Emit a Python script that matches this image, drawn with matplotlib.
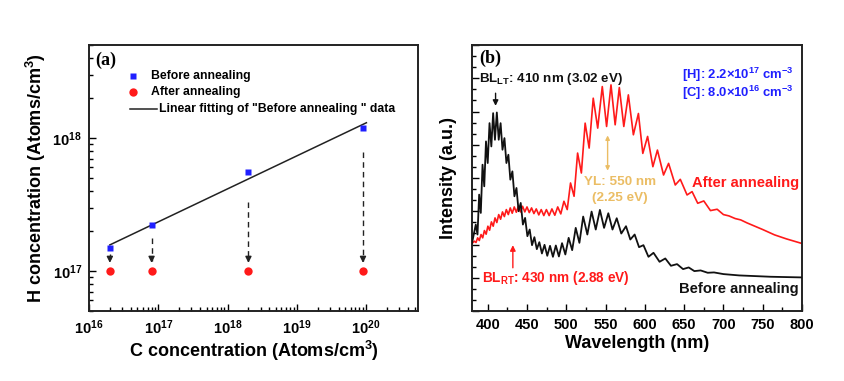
import numpy as np
import matplotlib
matplotlib.use('Agg')
import matplotlib.pyplot as plt
from matplotlib.ticker import MultipleLocator, LogLocator, FuncFormatter, NullFormatter

plt.rcParams['font.family'] = ['Liberation Sans', 'DejaVu Sans']
plt.rcParams['font.weight'] = 'bold'
plt.rcParams['mathtext.fontset'] = 'custom'
plt.rcParams['mathtext.rm'] = 'Liberation Sans:bold'
plt.rcParams['mathtext.bf'] = 'Liberation Sans:bold'
plt.rcParams['mathtext.it'] = 'Liberation Sans:bold:italic'
plt.rcParams['mathtext.default'] = 'rm'

# ---------------- Panel (a) data ----------------
c_conc = [2.0e16, 8.0e16, 2.0e18, 9.0e19]
h_before = [1.49e17, 2.22e17, 5.5e17, 1.19e18]
h_after = [1.0e17, 1.0e17, 1.0e17, 1.0e17]
arrow_start = [1.34e17, 1.77e17, 3.3e17, 7.9e17]
arrow_tip = [1.15e17, 1.15e17, 1.15e17, 1.15e17]

# ---------------- Panel (b) data ----------------
wl_before = [380, 384.8, 387.0, 389.1, 391.2, 393.4, 395.6, 397.8, 400.0, 402.3,
             404.6, 406.9, 409.2, 411.6, 414.0, 416.4, 418.8, 421.3, 423.8, 426.3,
             428.8, 431.4, 434.0, 436.6, 439.3, 442.0, 444.8, 447.6, 450.5, 453.4,
             456.4, 459.4, 462.5, 465.7, 469.0, 472.3, 475.8, 479.3, 483.0, 486.7,
             490.6, 494.6, 498.8, 503.0, 507.5, 512.0, 516.7, 521.5, 526.8, 532.2,
             537.5, 542.8, 548.1, 553.5, 558.8, 564.2, 570.0, 576.0, 581.5, 587.0,
             592.6, 598.2, 604.6, 611.0, 618.7, 626.0, 633.2, 641.0, 648.6, 655.8,
             663.0, 671.0, 680.0, 688.0, 700, 720, 740, 760, 780, 800]
int_before = [2.04, 2.60, 2.30, 3.50, 2.95, 4.40, 3.75, 5.10, 4.45, 5.65,
              4.95, 5.95, 5.15, 5.97, 5.15, 5.65, 4.85, 5.20, 4.45, 4.70,
              3.95, 4.20, 3.45, 3.70, 3.00, 3.25, 2.60, 2.80, 2.25, 2.45,
              1.98, 2.22, 1.86, 2.07, 1.73, 1.99, 1.66, 1.96, 1.63, 1.97,
              1.64, 2.04, 1.70, 2.20, 1.83, 2.50, 2.05, 2.84, 2.30, 2.99,
              2.45, 3.04, 2.50, 2.94, 2.45, 2.79, 2.33, 2.55, 2.15, 2.30,
              1.92, 1.98, 1.63, 1.75, 1.48, 1.58, 1.36, 1.41, 1.26, 1.31,
              1.20, 1.22, 1.15, 1.16, 1.11, 1.07, 1.05, 1.03, 1.02, 1.01]

wl_after = [380, 383.0, 385.1, 387.2, 389.3, 391.5, 393.6, 395.8, 398.0, 400.2,
            402.4, 404.7, 407.0, 409.3, 411.6, 414.0, 416.4, 418.8, 421.2, 423.7,
            426.2, 428.7, 431.2, 433.8, 436.4, 439.0, 441.7, 444.4, 447.2, 450.0,
            452.9, 455.8, 458.8, 461.8, 465.0, 468.1, 471.4, 474.7, 478.2, 481.7,
            485.4, 489.1, 493.0, 497.0, 501.2, 505.4, 509.9, 514.4, 519.2, 524.0,
            529.1, 534.3, 540.0, 545.8, 551.3, 556.9, 562.2, 567.5, 573.2, 579.0,
            585.4, 591.8, 597.4, 603.5, 610.2, 616.0, 623.8, 630.2, 638.7, 645.1,
            653.7, 660.1, 667.3, 675.0, 683.5, 692.0, 700.0, 707.0, 715.0, 722.0,
            730, 740, 750, 765, 780, 790, 800]
int_after = [2.03, 2.10, 2.06, 2.20, 2.12, 2.30, 2.20, 2.42, 2.31, 2.55,
             2.43, 2.68, 2.55, 2.80, 2.66, 2.90, 2.76, 2.98, 2.84, 3.05,
             2.90, 3.10, 2.94, 3.13, 2.97, 3.15, 2.98, 3.15, 2.98, 3.13,
             2.96, 3.10, 2.93, 3.07, 2.89, 3.05, 2.87, 3.05, 2.87, 3.07,
             2.88, 3.13, 2.92, 3.30, 3.05, 3.85, 3.45, 4.75, 4.15, 5.65,
             4.90, 6.40, 5.50, 6.75, 5.55, 6.80, 5.60, 6.72, 5.55, 6.50,
             5.30, 5.94, 4.74, 5.25, 4.34, 4.84, 4.09, 4.44, 3.79, 3.96,
             3.49, 3.59, 3.24, 3.31, 3.02, 3.06, 2.90, 2.86, 2.78, 2.74,
             2.65, 2.55, 2.45, 2.29, 2.17, 2.10, 2.03]

blue = '#1f1fff'
red = '#ff1a1a'
gold = '#ebbd64'

fig = plt.figure(figsize=(8.44, 3.81), dpi=100)
axa = fig.add_axes([89/844, 1-311/381, (418-89)/844, (311-45)/381])
axb = fig.add_axes([472/844, 1-311/381, (802-472)/844, (311-45)/381])

# ---------------- Panel (a) ----------------
axa.set_xscale('log')
axa.set_yscale('log')
axa.set_xlim(1e16, 5.6e20)
axa.set_ylim(5e16, 5e18)

coef = np.polyfit(np.log10(c_conc), np.log10(h_before), 1)
xfit = np.array([c_conc[0], c_conc[-1] * 1.12])
yfit = 10 ** np.polyval(coef, np.log10(xfit))
axa.plot(xfit, yfit, color='#222222', lw=1.1, zorder=2)

for x, y0, y1 in zip(c_conc, arrow_start, arrow_tip):
    axa.plot([x, x], [y0, y1 * 1.03], ls=(0, (4, 3)), color='#222222', lw=1.0, zorder=2)
    axa.annotate('', xy=(x, y1), xytext=(x, y1 * 1.06),
                 arrowprops=dict(arrowstyle='-|>', color='#222222', lw=1.0,
                                 mutation_scale=9, shrinkA=0, shrinkB=0))

axa.plot(c_conc, h_before, 's', color=blue, ms=5, mec='none', zorder=3)
axa.plot(c_conc, h_after, 'o', color=red, ms=6, mec='none', zorder=3)

fmt_log = FuncFormatter(lambda v, p: r'$\mathbf{10^{%d}}$' % int(round(np.log10(v))))
axa.xaxis.set_major_locator(LogLocator(base=10, numticks=12))
axa.xaxis.set_minor_locator(LogLocator(base=10, subs=range(2, 10), numticks=12))
axa.xaxis.set_major_formatter(fmt_log)
axa.xaxis.set_minor_formatter(NullFormatter())
axa.yaxis.set_major_locator(LogLocator(base=10, numticks=12))
axa.yaxis.set_minor_locator(LogLocator(base=10, subs=range(2, 10), numticks=12))
axa.yaxis.set_major_formatter(fmt_log)
axa.yaxis.set_minor_formatter(NullFormatter())

axa.set_xlabel('C concentration (Atoms/cm$^{3}$)', fontsize=13, fontweight='bold', labelpad=2)
axa.set_ylabel('H concentration (Atoms/cm$^{3}$)', fontsize=13, fontweight='bold', labelpad=3)

# legend (manual, Origin-style)
axa.plot([0.134], [0.883], 's', color=blue, ms=5, mec='none', transform=axa.transAxes)
axa.plot([0.134], [0.823], 'o', color=red, ms=6, mec='none', transform=axa.transAxes)
axa.plot([0.125, 0.207], [0.759, 0.759], color='#222222', lw=1.1, transform=axa.transAxes)
axa.text(0.188, 0.883, 'Before annealing', transform=axa.transAxes, fontsize=8.8,
         va='center', ha='left')
axa.text(0.188, 0.823, 'After annealing', transform=axa.transAxes, fontsize=8.8,
         va='center', ha='left')
axa.text(0.213, 0.759, 'Linear fitting of "Before annealing " data', transform=axa.transAxes,
         fontsize=8.8, va='center', ha='left')
axa.text(0.018, 0.944, '(a)', transform=axa.transAxes, fontsize=13,
         family='Liberation Serif', fontweight='bold', va='center', ha='left')

# ---------------- Panel (b) ----------------
axb.plot(wl_after, int_after, color=red, lw=1.2, zorder=2)
axb.plot(wl_before, int_before, color='#111111', lw=1.3, zorder=3)
axb.set_xlim(380, 800)
axb.set_ylim(0, 8)
axb.xaxis.set_major_locator(MultipleLocator(50))
axb.xaxis.set_minor_locator(MultipleLocator(25))
axb.yaxis.set_major_locator(MultipleLocator(1))
axb.yaxis.set_minor_locator(MultipleLocator(1/3))
axb.set_yticklabels([])
axb.set_xlabel('Wavelength (nm)', fontsize=13, fontweight='bold', labelpad=2)
axb.set_ylabel('Intensity (a.u.)', fontsize=13, fontweight='bold', labelpad=6)

axb.text(389.4, 7.61, '(b)', fontsize=13, family='Liberation Serif', fontweight='bold',
         va='center', ha='left')
axb.text(388.5, 6.97, r'BL$_{\mathregular{LT}}$: 410 nm (3.02 eV)', fontsize=9.6,
         color='#111111', va='center', ha='left')
axb.annotate('', xy=(410, 6.17), xytext=(410, 6.55),
             arrowprops=dict(arrowstyle='-|>', color='#111111', lw=1.0,
                             mutation_scale=8, shrinkA=0, shrinkB=0))
axb.text(789.5, 7.10, r'[H]: 2.2×10$^{17}$ cm$^{-3}$', fontsize=9.4, color=blue,
         va='center', ha='right')
axb.text(789.5, 6.56, r'[C]: 8.0×10$^{16}$ cm$^{-3}$', fontsize=9.4, color=blue,
         va='center', ha='right')
axb.text(568.4, 3.89, 'YL: 550 nm', fontsize=9.7, color=gold, va='center', ha='center')
axb.text(568.4, 3.39, '(2.25 eV)', fontsize=9.7, color=gold, va='center', ha='center')
axb.annotate('', xy=(552.6, 5.28), xytext=(552.6, 4.22),
             arrowprops=dict(arrowstyle='<|-|>', color=gold, lw=1.0,
                             mutation_scale=6, shrinkA=0, shrinkB=0))
axb.text(796, 3.84, 'After annealing', fontsize=10.6, color=red, va='center', ha='right')
axb.text(796, 0.65, 'Before annealing', fontsize=10.6, color='#111111', va='center', ha='right')
axb.text(393.2, 0.98, r'BL$_{\mathregular{RT}}$: 430 nm (2.88 eV)', fontsize=9.8, color=red,
         va='center', ha='left')
axb.annotate('', xy=(432, 1.98), xytext=(432, 1.30),
             arrowprops=dict(arrowstyle='-|>', color=red, lw=1.0,
                             mutation_scale=8, shrinkA=0, shrinkB=0))

for ax in (axa, axb):
    for sp in ax.spines.values():
        sp.set_linewidth(1.4)
        sp.set_color('#222222')
    ax.tick_params(which='both', direction='in', top=False, right=False, width=1.0,
                   labelsize=10.5, pad=5)
    ax.tick_params(which='major', length=5)
    ax.tick_params(which='minor', length=3)
    for lab in ax.get_xticklabels() + ax.get_yticklabels():
        lab.set_fontweight('bold')

fig.savefig('out.png', dpi=100)
